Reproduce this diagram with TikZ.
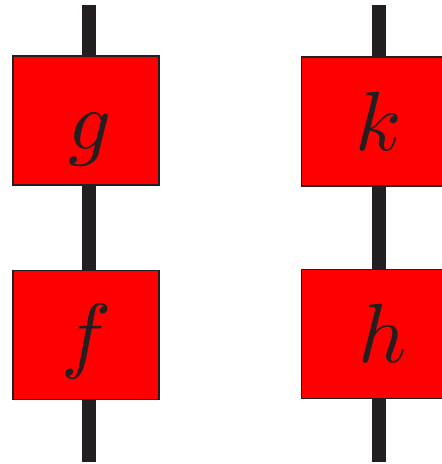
\documentclass[tikz,border=0pt]{standalone}
\usepackage{graphicx}
\definecolor{wirec}{HTML}{231F20}
\definecolor{boxred}{HTML}{FF0000}
\newcommand{\biglbl}[1]{\scalebox{8.4}{$#1$}}
\begin{document}
\begin{tikzpicture}[x=1pt,y=-1pt,
  wire/.style={draw=wirec,line width=14pt,line cap=butt},
  morph/.style={draw=wirec,line width=1.2pt,fill=boxred,minimum width=146pt,minimum height=129pt,inner sep=0pt,outer sep=0pt},
  lbl/.style={anchor=base,inner sep=0pt,text=wirec}]
\useasboundingbox (0,0) rectangle (442,464);
% wire ends
\coordinate (lt) at (88.5,5);
\coordinate (lb) at (88.5,462);
\coordinate (rt) at (378.5,5);
\coordinate (rb) at (378.5,462);
% boxes
\node[morph] (g) at (86,120.5) {};
\node[morph] (f) at (86,335) {};
\node[morph] (k) at (374.5,121.5) {};
\node[morph] (h) at (374.5,334) {};
% wires
\draw[wire] (lt) -- (g.north -| lt);
\draw[wire] (g.south -| lt) -- (f.north -| lt);
\draw[wire] (f.south -| lb) -- (lb);
\draw[wire] (rt) -- (k.north -| rt);
\draw[wire] (k.south -| rt) -- (h.north -| rt);
\draw[wire] (h.south -| rb) -- (rb);
% labels
\node[lbl] (gl) at (90,149) {\biglbl{g}};
\node[lbl] (kl) at (379,150) {\biglbl{k}};
\node[lbl] (fl) at (87,362) {\biglbl{f}};
\node[lbl] (hl) at (383,362) {\biglbl{h}};
\end{tikzpicture}
\end{document}
